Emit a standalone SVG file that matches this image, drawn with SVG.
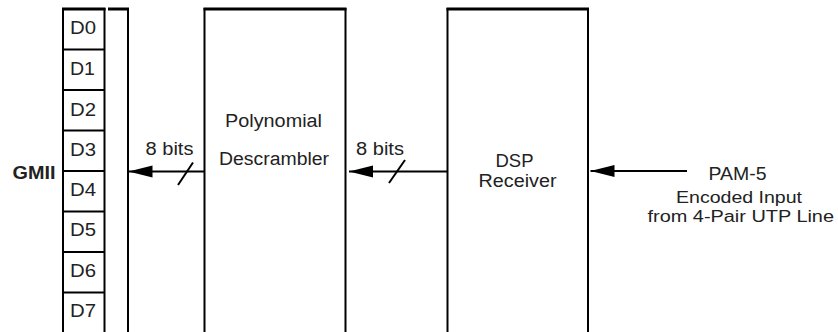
<svg xmlns="http://www.w3.org/2000/svg" width="838" height="332" viewBox="0 0 838 332">
<style>
.box{fill:none;stroke:#000;stroke-width:2}
.top{stroke:#000;stroke-width:3}
.ln{fill:none;stroke:#000;stroke-width:2}
.t{font-family:"Liberation Sans",Arial,sans-serif;font-size:18px;fill:#222}
.s{font-family:"Liberation Sans",Arial,sans-serif;font-size:16px;fill:#222}
.b{font-family:"Liberation Sans",Arial,sans-serif;font-size:18px;font-weight:bold;fill:#222}
</style>
<defs>
<marker id="ah" markerUnits="userSpaceOnUse" markerWidth="26" markerHeight="14" refX="24" refY="6" orient="auto">
<path d="M0,0 L24,6 L0,12 Z" fill="#000"/>
</marker>
</defs>
<rect width="838" height="332" fill="#fff"/>
<g id="gmii">
<path class="box" d="M63,333 V9 H104.5 V333"/>
<line class="top" x1="62" y1="9" x2="105.5" y2="9"/>
<g class="ln">
<line x1="63" y1="49.5" x2="104.5" y2="49.5"/>
<line x1="63" y1="90" x2="104.5" y2="90"/>
<line x1="63" y1="130.5" x2="104.5" y2="130.5"/>
<line x1="63" y1="171" x2="104.5" y2="171"/>
<line x1="63" y1="211.5" x2="104.5" y2="211.5"/>
<line x1="63" y1="252" x2="104.5" y2="252"/>
<line x1="63" y1="292.5" x2="104.5" y2="292.5"/>
</g>
<text class="t" x="70" y="34" textLength="26" lengthAdjust="spacingAndGlyphs">D0</text>
<text class="t" x="70" y="75" textLength="25" lengthAdjust="spacingAndGlyphs">D1</text>
<text class="t" x="70" y="115.5" textLength="26" lengthAdjust="spacingAndGlyphs">D2</text>
<text class="t" x="70" y="156" textLength="26" lengthAdjust="spacingAndGlyphs">D3</text>
<text class="t" x="70" y="195.5" textLength="26" lengthAdjust="spacingAndGlyphs">D4</text>
<text class="t" x="70" y="236" textLength="26" lengthAdjust="spacingAndGlyphs">D5</text>
<text class="t" x="70" y="276.5" textLength="26" lengthAdjust="spacingAndGlyphs">D6</text>
<text class="t" x="70" y="317" textLength="26" lengthAdjust="spacingAndGlyphs">D7</text>
<text class="b" x="12.5" y="179" textLength="43" lengthAdjust="spacingAndGlyphs">GMII</text>
</g>
<g id="bar">
<path class="box" d="M108,9 H128 V333"/>
<line class="top" x1="108" y1="9" x2="129" y2="9"/>
</g>
<g id="descrambler">
<path class="box" d="M204.5,333 V9 H345.5 V333"/>
<line class="top" x1="203.5" y1="9" x2="346.5" y2="9"/>
<text class="t" x="225" y="127" textLength="97" lengthAdjust="spacingAndGlyphs">Polynomial</text>
<text class="t" x="219" y="165" textLength="110" lengthAdjust="spacingAndGlyphs">Descrambler</text>
</g>
<g id="dsp">
<path class="box" d="M447.5,333 V9 H588 V333"/>
<line class="top" x1="446.5" y1="9" x2="589" y2="9"/>
<text class="t" x="495.5" y="166.5" textLength="38" lengthAdjust="spacingAndGlyphs">DSP</text>
<text class="t" x="478.5" y="186.5" textLength="78" lengthAdjust="spacingAndGlyphs">Receiver</text>
</g>
<g id="input">
<text class="t" x="708.5" y="180" textLength="58" lengthAdjust="spacingAndGlyphs">PAM-5</text>
<text class="s" x="676" y="203" textLength="126" lengthAdjust="spacingAndGlyphs">Encoded Input</text>
<text class="s" x="647.5" y="221.5" textLength="186.5" lengthAdjust="spacingAndGlyphs">from 4-Pair UTP Line</text>
</g>
<g id="connectors">
<line class="ln" x1="204.5" y1="171.5" x2="128.5" y2="171.5" marker-end="url(#ah)"/>
<line class="ln" x1="193" y1="162.5" x2="178" y2="185"/>
<text class="t" x="145.5" y="155" textLength="48" lengthAdjust="spacingAndGlyphs">8 bits</text>
<line class="ln" x1="447.5" y1="171.5" x2="349" y2="171.5" marker-end="url(#ah)"/>
<line class="ln" x1="405" y1="160" x2="389" y2="183"/>
<text class="t" x="356" y="155" textLength="48" lengthAdjust="spacingAndGlyphs">8 bits</text>
<line class="ln" x1="687" y1="171" x2="590.5" y2="171" marker-end="url(#ah)"/>
</g>
</svg>
